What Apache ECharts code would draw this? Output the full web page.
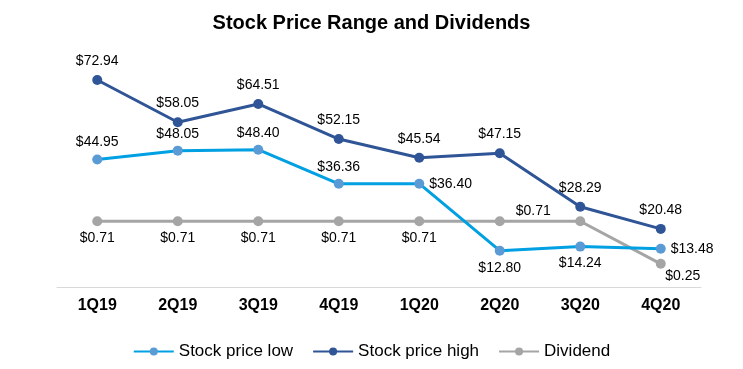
<!DOCTYPE html>
<html><head><meta charset="utf-8">
<script src="https://cdn.jsdelivr.net/npm/echarts@6/dist/echarts.min.js"></script>
<style>html,body{margin:0;padding:0;background:#fff}#c{width:743px;height:369px}</style>
</head><body><div id="c"></div>
<script>
const categories = ['1Q19','2Q19','3Q19','4Q19','1Q20','2Q20','3Q20','4Q20'];
const priceLow = [44.95, 48.05, 48.40, 36.36, 36.40, 12.80, 14.24, 13.48];
const priceHigh = [72.94, 58.05, 64.51, 52.15, 45.54, 47.15, 28.29, 20.48];
const dividend = [0.71, 0.71, 0.71, 0.71, 0.71, 0.71, 0.71, 0.25];

const F = 'Arial, "Liberation Sans", sans-serif';
const fmt = p => '$' + p.value.toFixed(2);
const lab = {show:true, formatter: fmt, color:'#000', fontFamily:F, fontSize:14};

const lowPos = ['top','top','top','top','right','bottom','bottom','right'];
const divLabels = dividend.map((v,i)=>{
  if (i < 5) return {value:v, label:{position:'bottom'}};
  if (i === 5) return {value:v, label:{position:'right', offset:[6,-10]}};
  if (i === 6) return {value:v, label:{show:false}};
  return {value:v, label:{position:'bottom', offset:[22,-5]}};
});

const chart = echarts.init(document.getElementById('c'));
chart.setOption({
  animation:false,
  title:{text:'Stock Price Range and Dividends', left:'center', top:8,
    textStyle:{fontFamily:F, fontSize:20, fontWeight:'bold', color:'#000'}},
  grid:{left:57, right:42, top:60, bottom:82},
  legend:{bottom:4, left:'center', itemWidth:40, itemHeight:10, itemGap:19,
    textStyle:{fontFamily:F, fontSize:17, color:'#000'},
    data:['Stock price low','Stock price high','Dividend']},
  xAxis:{type:'category', data:categories, boundaryGap:true,
    axisLine:{show:true, lineStyle:{color:'#d9d9d9', width:1}},
    axisTick:{show:false},
    axisLabel:{fontFamily:F, fontSize:16, fontWeight:'bold', color:'#000', margin:11}},
  yAxis:[
    {type:'value', min:0, max:80, show:false, splitLine:{show:false}},
    {type:'value', min:0, max:2.45, show:false, splitLine:{show:false}}
  ],
  series:[
    {name:'Stock price low', type:'line', yAxisIndex:0, symbol:'circle', symbolSize:10,
     data: priceLow.map((v,i)=>({value:v, label:{position:lowPos[i]}})),
     lineStyle:{color:'#00a0e3', width:3}, itemStyle:{color:'#5b9bd5'},
     label:lab, z:3},
    {name:'Stock price high', type:'line', yAxisIndex:0, symbol:'circle', symbolSize:10,
     data: priceHigh, label:Object.assign({position:'top', distance:7}, lab),
     lineStyle:{color:'#2f5597', width:3}, itemStyle:{color:'#2f5597'}, z:4},
    {name:'Dividend', type:'line', yAxisIndex:1, symbol:'circle', symbolSize:10,
     data: divLabels, label:lab,
     lineStyle:{color:'#a5a5a5', width:3}, itemStyle:{color:'#a5a5a5'}, z:2}
  ]
});
</script></body></html>
